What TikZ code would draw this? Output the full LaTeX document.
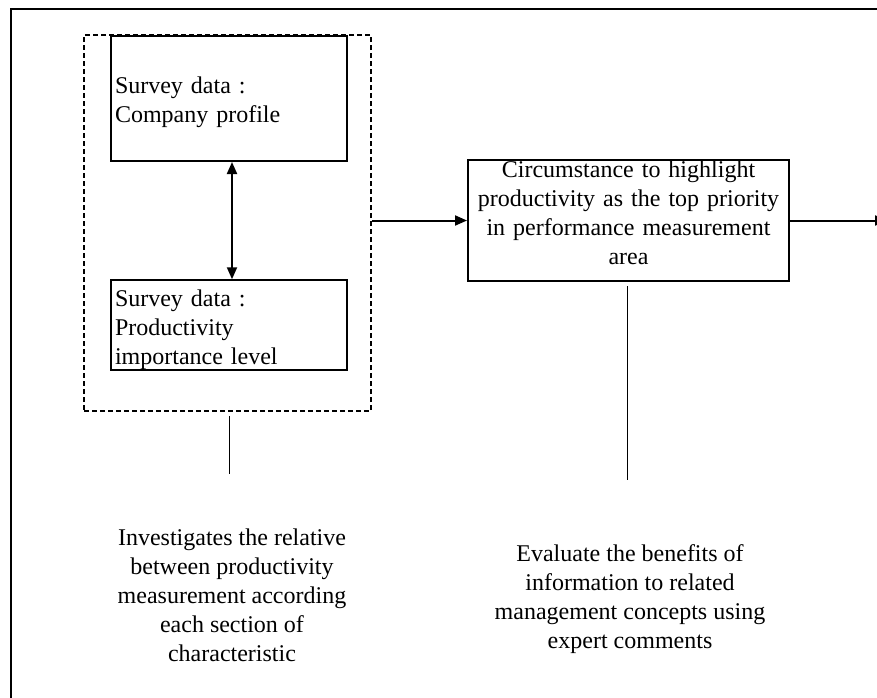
\documentclass[tikz,border=0pt]{standalone}
\usepackage{fontspec}
\setmainfont{Liberation Serif}
\usetikzlibrary{arrows.meta,positioning}

\begin{document}
\begin{tikzpicture}[
    x=0.5pt, y=-0.5pt,
    box/.style={draw, line width=1pt, inner xsep=2pt, inner ysep=0pt, font=\fontsize{12}{14.5}\selectfont},
    group/.style={draw, dashed, dash pattern=on 2.5pt off 1.5pt, line width=0.8pt, minimum width=143.5pt, minimum height=188pt, inner sep=0pt},
    arrow/.style={-{Triangle[length=6pt, width=5pt]}, line width=1pt},
    note/.style={font=\fontsize{12}{14.5}\selectfont, align=center, inner sep=0pt},
    lead/.style={line width=0.5pt}
]
    \useasboundingbox (0,0) rectangle (877,697);

    % Frame
    \draw[line width=1pt] (11,9) rectangle (900,720);

    % Survey data
    \node[group] (survey) at (227.5,223) {};
    \node[box, text width=114pt, align=left, minimum height=62.5pt] (profile) at (229,98.5)
        {\rule{0pt}{12.5pt}Survey data :\\Company profile};
    \node[box, text width=114pt, align=left, minimum height=44pt] (importance) at (229,325)
        {\rule{0pt}{13.2pt}Survey data :\\Productivity\\importance level};

    % Circumstance
    \node[box, text width=156.5pt, align=center, minimum height=60.5pt] (circ) at (628.5,220.5)
        {Circumstance to highlight\\productivity as the top priority\\in performance measurement\\area\rule[-8pt]{0pt}{1pt}};

    % Notes
    \node[note] (invest) at (232,595.5)
        {Investigates the relative\\between productivity\\measurement according\\each section of\\characteristic};
    \node[note] (evaluate) at (630,599.5)
        {Evaluate the benefits of\\information to related\\management concepts using\\expert comments};

    % Free ends
    \coordinate (exit) at (887,220.5);
    \coordinate (surveyend) at (229,474);
    \coordinate (circend) at (627,480);

    % Arrows
    \draw[arrow, {Triangle[length=6pt, width=5pt]}-{Triangle[length=6pt, width=5pt]}]
        ([xshift=1.5pt]profile.south) -- ([xshift=1.5pt]importance.north);
    \draw[arrow] (circ.west -| survey.east) -- (circ.west);
    \draw[arrow] (circ.east) -- (exit);

    % Leads
    \draw[lead] ([yshift=-2pt]survey.south -| surveyend) -- (surveyend);
    \draw[lead] ([yshift=-2pt]circ.south -| circend) -- (circend);
\end{tikzpicture}
\end{document}
